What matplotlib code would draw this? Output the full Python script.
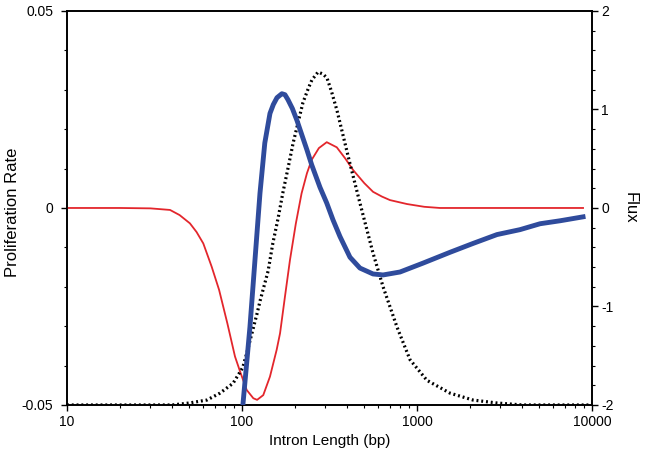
import matplotlib
matplotlib.use("Agg")
import matplotlib.pyplot as plt
from matplotlib.ticker import FixedLocator, MultipleLocator, LogLocator, NullFormatter
import numpy as np

plt.rcParams['font.family'] = ['Liberation Sans', 'DejaVu Sans']

# red: proliferation rate (left axis)
red_x = [10, 20, 30, 38.8, 44, 50.4, 55, 60.1, 67.1, 74.0, 82.5, 91.2, 97.5, 106.4, 116.1, 122,
         132.3, 144.5, 157.8, 165, 176, 188, 203, 219, 235, 250, 275, 305, 348, 390, 432, 500,
         561, 630, 701, 877, 1100, 1352, 3000, 8890]
red_y = [0, 0, -0.0001, -0.0005, -0.0018, -0.0039, -0.0061, -0.0090, -0.0149, -0.0208, -0.0293,
         -0.0377, -0.0415, -0.0462, -0.0483, -0.0487, -0.0475, -0.0428, -0.0360, -0.0318, -0.0225,
         -0.0132, -0.0040, 0.0037, 0.0088, 0.0122, 0.0152, 0.0167, 0.0154, 0.0125, 0.0096, 0.0063,
         0.0041, 0.0029, 0.0020, 0.0010, 0.0003, 0, 0, 0]

# blue: flux (right axis)
blue_x = [100, 111, 118.6, 126.7, 135, 144.5, 151, 158.5, 169, 176, 183, 194, 206, 220, 235, 250,
          279, 305, 331, 363, 414, 472, 561, 640, 800, 1082, 1544, 2091, 2865, 3878, 5050, 6565, 8890]
blue_y = [-2.1, -1.21, -0.53, 0.15, 0.66, 0.96, 1.05, 1.12, 1.16, 1.15, 1.10, 1.01, 0.89, 0.74, 0.59,
          0.44, 0.21, 0.05, -0.12, -0.29, -0.50, -0.61, -0.67, -0.68, -0.65, -0.56, -0.45, -0.36,
          -0.27, -0.22, -0.16, -0.13, -0.09]

# black dotted: intron length distribution (right axis units)
dist_x = [10, 40, 50, 63, 74.8, 88.9, 101, 107, 122, 127, 141, 150, 161, 171, 184, 196, 223, 240,
          251, 272, 290, 306, 325, 349, 396, 414, 472, 561, 640, 769, 912, 1140, 1544, 2091, 2865,
          4000, 10000]
dist_y = [-2.0, -2.0, -1.98, -1.95, -1.88, -1.78, -1.62, -1.46, -1.07, -0.94, -0.64, -0.36, -0.10,
          0.15, 0.42, 0.66, 1.07, 1.22, 1.30, 1.38, 1.36, 1.32, 1.18, 0.99, 0.59, 0.45, 0.05, -0.46,
          -0.80, -1.21, -1.54, -1.75, -1.88, -1.95, -1.98, -2.0, -2.0]

fig = plt.figure(figsize=(6.46, 4.54), dpi=100)
ax = fig.add_axes([0.1037, 0.108, 0.8127, 0.8678])
ax2 = ax.twinx()

ax.plot(red_x, red_y, color='#e3262c', lw=1.3, zorder=3)
ax2.plot(dist_x, dist_y, color='black', lw=2.3, linestyle=(0, (0.6, 0.9)), zorder=2)
ax2.plot(blue_x, blue_y, color='#2f4b9c', lw=3.5, zorder=3)

ax.set_xscale('log')
ax.set_xlim(10, 10000)
ax.set_ylim(-0.05, 0.05)
ax2.set_ylim(-2, 2)

ax.xaxis.set_major_locator(FixedLocator([10, 100, 1000, 10000]))
ax.set_xticklabels(['10', '100', '1000', '10000'])
ax.xaxis.set_minor_locator(LogLocator(base=10, subs=np.arange(2, 10)))
ax.xaxis.set_minor_formatter(NullFormatter())

ax.yaxis.set_major_locator(FixedLocator([-0.05, 0, 0.05]))
ax.set_yticklabels(['-0.05', '0', '0.05'])
ax.yaxis.set_minor_locator(MultipleLocator(0.01))

ax2.yaxis.set_major_locator(FixedLocator([-2, -1, 0, 1, 2]))
ax2.set_yticklabels(['-2', '-1', '0', '1', '2'])
ax2.yaxis.set_minor_locator(MultipleLocator(0.2))

for a in (ax, ax2):
    a.tick_params(which='major', direction='out', length=4, width=1, labelsize=10)
    a.tick_params(which='minor', direction='out', length=2.5, width=0.8)
    for s in a.spines.values():
        s.set_linewidth(1.2)
ax.tick_params(axis='y', which='major', pad=6)
ax2.tick_params(axis='y', which='major', pad=2.5)
ax.tick_params(axis='x', which='major', pad=3)

ax.set_xlabel('Intron Length (bp)', fontsize=11, labelpad=4)
ax.set_ylabel('Proliferation Rate', fontsize=12)
ax.yaxis.set_label_coords(-0.09, 0.49)
ax2.set_ylabel('Flux', fontsize=12, rotation=270, labelpad=17)

fig.savefig('out.png', dpi=100)
